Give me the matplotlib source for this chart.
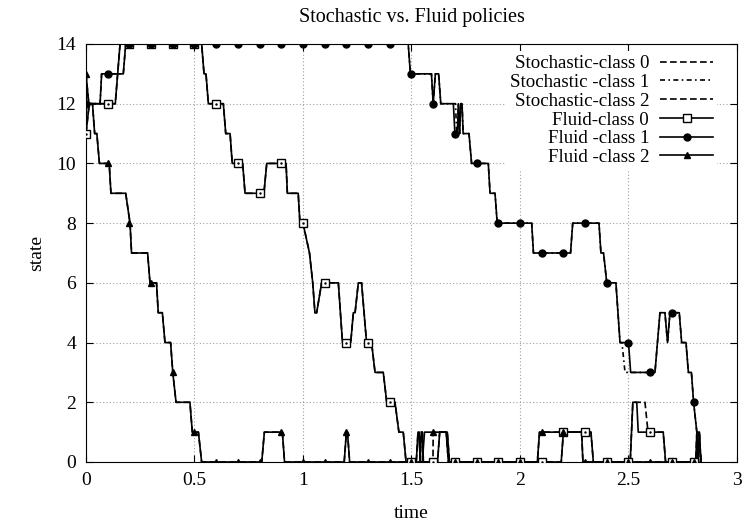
import matplotlib
matplotlib.use("Agg")
import matplotlib.pyplot as plt

plt.rcParams["font.family"] = ["Liberation Serif", "DejaVu Serif"]
plt.rcParams["font.size"] = 14

# sample times where the fluid markers are drawn
mark_t = [0.0, 0.1, 0.2, 0.3, 0.4, 0.5, 0.6, 0.7, 0.8, 0.9, 1.0, 1.1, 1.2, 1.3,
          1.4, 1.5, 1.6, 1.7, 1.8, 1.9, 2.0, 2.1, 2.2, 2.3, 2.4, 2.5, 2.6, 2.7, 2.8]

# fluid class 0
f0_t = [0, 0.015, 0.135, 0.157, 0.533, 0.544, 0.553, 0.564, 0.633, 0.644, 0.664, 0.674,
        0.722, 0.733, 0.82, 0.833, 0.922, 0.928, 0.978, 0.986, 1.0, 1.03, 1.045, 1.055,
        1.063, 1.086, 1.163, 1.182, 1.22, 1.232, 1.24, 1.255, 1.27, 1.293, 1.316, 1.332,
        1.37, 1.386, 1.424, 1.442, 1.462, 1.475, 1.522, 1.53, 1.535, 1.54, 1.545, 1.55,
        1.555, 1.56, 1.62, 1.63, 1.66, 1.67, 2.19, 2.2, 2.327, 2.338, 2.508, 2.52, 2.538,
        2.545, 2.66, 2.671, 2.81, 2.815, 2.825, 2.835]
f0_v = [11, 12, 12, 14, 14, 13, 13, 12, 12, 11, 11, 10,
        10, 9, 9, 10, 10, 9, 9, 8, 8, 7, 6, 5,
        5, 6, 6, 4, 4, 5, 5, 6, 6, 4, 4, 3,
        3, 2, 2, 1, 1, 0, 0, 1, 1, 0, 1, 1,
        0, 0, 0, 1, 1, 0, 0, 1, 1, 0, 0, 2, 2,
        1, 1, 0, 0, 1, 1, 0]
f0_marks = [11, 12, 14, 14, 14, 14, 12, 10, 9, 10, 8, 6, 4, 4, 2, 0, 0, 0, 0, 0,
            0, 0, 1, 1, 0, 0, 1, 0, 0]

# fluid class 1
f1_t = [0, 0.065, 0.072, 0.172, 0.183, 1.485, 1.495, 1.592, 1.6, 1.61, 1.625, 1.635,
        1.693, 1.7, 1.712, 1.716, 1.722, 1.727, 1.733, 1.738, 1.765, 1.777, 1.854, 1.862,
        1.885, 1.895, 2.054, 2.062, 2.233, 2.243, 2.364, 2.373, 2.385, 2.4, 2.442, 2.461,
        2.5, 2.51, 2.622, 2.645, 2.668, 2.68, 2.691, 2.734, 2.745, 2.765, 2.776, 2.79,
        2.8, 2.815, 2.82, 2.827, 2.832]
f1_v = [12, 12, 13, 13, 14, 14, 13, 13, 12, 13, 13, 12,
        12, 11, 11, 12, 11, 12, 12, 11, 11, 10, 10, 9,
        9, 8, 8, 7, 7, 8, 8, 7, 7, 6, 6, 4,
        4, 3, 3, 5, 5, 4, 5, 5, 4, 4, 3, 3,
        2, 1, 0, 1, 0]
f1_marks = [12, 13, 14, 14, 14, 14, 14, 14, 14, 14, 14, 14, 14, 14, 14, 13, 12, 11,
            10, 8, 8, 7, 7, 8, 6, 4, 3, 5, 2]

# fluid class 2
f2_t = [0, 0.013, 0.03, 0.04, 0.05, 0.062, 0.107, 0.115, 0.183, 0.203, 0.21, 0.284,
        0.295, 0.325, 0.333, 0.352, 0.364, 0.39, 0.4, 0.415, 0.479, 0.49, 0.518, 0.533,
        0.81, 0.822, 0.905, 0.915, 1.19, 1.2, 1.205, 1.215, 1.55, 1.56, 1.665, 1.675,
        2.08, 2.09, 2.284, 2.29, 2.8, 2.81]
f2_v = [13, 12, 12, 11, 11, 10, 10, 9, 9, 8, 7, 7,
        6, 6, 5, 5, 4, 4, 3, 2, 2, 1, 1, 0,
        0, 1, 1, 0, 0, 1, 1, 0, 0, 1, 1, 0,
        0, 1, 1, 0, 0, 0]
f2_marks = [13, 10, 8, 6, 3, 1, 0, 0, 0, 1, 0, 0, 1, 0, 0, 0, 1, 0, 0, 0,
            0, 1, 1, 0, 0, 0, 0, 0, 0]

# stochastic class 0
s0_t = [0, 0.015, 0.135, 0.157, 0.533, 0.544, 0.553, 0.564, 0.633, 0.644, 0.664, 0.674,
        0.722, 0.733, 0.82, 0.833, 0.922, 0.928, 0.978, 0.986, 1.0, 1.03, 1.045, 1.055,
        1.063, 1.086, 1.163, 1.182, 1.22, 1.232, 1.24, 1.255, 1.27, 1.293, 1.316, 1.332,
        1.37, 1.386, 1.424, 1.442, 1.462, 1.475, 1.522, 1.53, 1.535, 1.54, 1.545, 1.55,
        1.555, 1.56, 1.62, 1.63, 1.66, 1.67, 2.19, 2.2, 2.327, 2.338, 2.508, 2.52, 2.576,
        2.59, 2.66, 2.671, 2.81, 2.815, 2.825, 2.835]
s0_v = [11, 12, 12, 14, 14, 13, 13, 12, 12, 11, 11, 10,
        10, 9, 9, 10, 10, 9, 9, 8, 8, 7, 6, 5,
        5, 6, 6, 4, 4, 5, 5, 6, 6, 4, 4, 3,
        3, 2, 2, 1, 1, 0, 0, 1, 1, 0, 1, 1,
        0, 0, 0, 1, 1, 0, 0, 1, 1, 0, 0, 2, 2,
        1, 1, 0, 0, 1, 1, 0]

# stochastic class 1
s1_t = [0, 0.065, 0.072, 0.172, 0.183, 1.485, 1.495, 1.592, 1.6, 1.61, 1.625, 1.635,
        1.703, 1.708, 1.712, 1.716, 1.722, 1.727, 1.733, 1.738, 1.765, 1.777, 1.854, 1.862,
        1.885, 1.895, 2.054, 2.062, 2.233, 2.243, 2.364, 2.373, 2.385, 2.4, 2.442, 2.461,
        2.47, 2.484, 2.622, 2.645, 2.668, 2.68, 2.691, 2.734, 2.745, 2.765, 2.776, 2.79,
        2.8, 2.815, 2.82, 2.827, 2.832]
s1_v = [12, 12, 13, 13, 14, 14, 13, 13, 12, 13, 13, 12,
        12, 11, 11, 12, 11, 12, 12, 11, 11, 10, 10, 9,
        9, 8, 8, 7, 7, 8, 8, 7, 7, 6, 6, 4,
        4, 3, 3, 5, 5, 4, 5, 5, 4, 4, 3, 3,
        2, 1, 0, 1, 0]

# stochastic class 2
s2_t = [0, 0.013, 0.03, 0.04, 0.05, 0.062, 0.107, 0.115, 0.183, 0.203, 0.21, 0.284,
        0.295, 0.325, 0.333, 0.352, 0.364, 0.39, 0.4, 0.415, 0.479, 0.49, 0.518, 0.533,
        0.81, 0.822, 0.905, 0.915, 1.19, 1.2, 1.205, 1.215, 1.599, 1.6, 1.665, 1.675,
        2.08, 2.09, 2.284, 2.29, 2.8, 2.81]
s2_v = [13, 12, 12, 11, 11, 10, 10, 9, 9, 8, 7, 7,
        6, 6, 5, 5, 4, 4, 3, 2, 2, 1, 1, 0,
        0, 1, 1, 0, 0, 1, 1, 0, 0, 1, 1, 0,
        0, 1, 1, 0, 0, 0]

fig = plt.figure(figsize=(7.47, 5.25), dpi=100)
ax = fig.add_axes([0.1151, 0.12, 0.8715, 0.7962])

lw = 1.2
ax.plot(s0_t, s0_v, color="black", lw=lw, ls=(0, (4, 2)), label="Stochastic-class 0")
ax.plot(s1_t, s1_v, color="black", lw=lw, ls=(0, (3, 2, 1, 2)), label="Stochastic -class 1")
ax.plot(s2_t, s2_v, color="black", lw=lw, ls=(0, (4, 2)), label="Stochastic-class 2")

ax.plot(f0_t, f0_v, color="black", lw=lw)
ax.plot(f1_t, f1_v, color="black", lw=lw)
ax.plot(f2_t, f2_v, color="black", lw=lw)

sq_ms, ci_ms, tr_ms = 5.5, 5.0, 4.5
ax.plot(mark_t, f0_marks, ls="none", marker="s", ms=sq_ms, mfc="white", mec="black", mew=1.0, zorder=4)
ax.plot(mark_t, f0_marks, ls="none", marker=".", ms=1.5, color="black", zorder=5)
ax.plot(mark_t, f1_marks, ls="none", marker="o", ms=ci_ms, color="black", zorder=4)
ax.plot(mark_t, f2_marks, ls="none", marker="^", ms=tr_ms, color="black", zorder=4)

# legend proxies for the fluid series
ax.plot([], [], color="black", lw=lw, marker="s", ms=sq_ms, mfc="white", mec="black", label="Fluid-class 0")
ax.plot([], [], color="black", lw=lw, marker="o", ms=ci_ms, label="Fluid -class 1")
ax.plot([], [], color="black", lw=lw, marker="^", ms=tr_ms, label="Fluid -class 2")

ax.set_xlim(0, 3)
ax.set_ylim(0, 14)
ax.set_xticks([0, 0.5, 1, 1.5, 2, 2.5, 3])
ax.set_xticklabels(["0", "0.5", "1", "1.5", "2", "2.5", "3"])
ax.set_yticks([0, 2, 4, 6, 8, 10, 12, 14])
ax.tick_params(direction="in", top=True, right=True, length=5, labelsize=14, pad=7)
ax.grid(True, color="#a0a0a0", ls=(0, (1, 2)), lw=0.8)

ax.set_title("Stochastic vs. Fluid policies", fontsize=14.5, pad=16)
ax.set_xlabel("time", fontsize=14, labelpad=12)
ax.set_ylabel("state", fontsize=14, labelpad=8)

leg = ax.legend(loc="upper right", bbox_to_anchor=(0.984, 1.005), markerfirst=False,
                numpoints=1, handlelength=2.8, handletextpad=0.6, labelspacing=0.08,
                borderpad=0.2, fontsize=13.6, frameon=True, fancybox=False)
leg.get_frame().set_edgecolor("none")
leg.get_frame().set_facecolor("white")
leg.get_frame().set_alpha(1.0)

fig.savefig("out.png", dpi=100)
